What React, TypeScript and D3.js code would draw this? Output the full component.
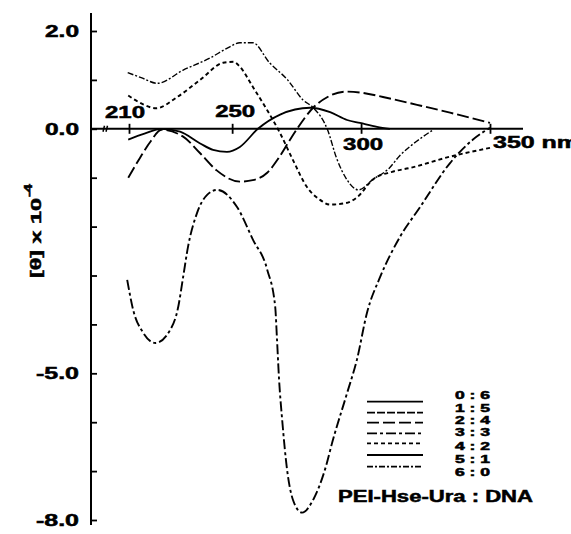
import React, { useEffect, useRef } from "react";
import * as d3 from "d3";

// CD spectra, PEI-Hse-Ura : DNA ratios. wavelength in nm, [θ] x 10^-4
const wl06 = [209.7, 216, 222.5, 229.8, 237.6, 242.6, 248, 253, 260, 268.6, 280.2, 288, 294.6, 299.6, 306.2, 311.2];
const th06 = [-0.22, -0.1, 0.0, -0.06, -0.3, -0.43, -0.47, -0.37, 0.0, 0.29, 0.43, 0.34, 0.18, 0.12, 0.04, 0.0];

const wl24 = [209.7, 214.3, 218.5, 222.5, 231, 237.6, 244, 253, 258, 263.6, 268, 272.5, 275.2, 281.4, 287, 293.8, 300, 308.5, 321.7, 334.5, 350];
const th24 = [-1.0, -0.59, -0.25, -0.02, -0.16, -0.5, -0.85, -1.08, -1.05, -0.9, -0.6, -0.22, 0.0, 0.43, 0.65, 0.76, 0.74, 0.65, 0.49, 0.33, 0.12];

const wl33 = [209.3, 211.6, 215.5, 220.2, 226, 229.1, 231, 232.9, 236.4, 240.3, 244.2, 251.9, 258.1, 263.6, 266.7, 267.4, 268.2, 269.4, 271.3, 273.6, 277.1, 281.4, 286, 289.1, 294.6, 298.4, 302.3, 307.4, 315.1, 322.9, 334.5, 343.4, 350];
const th33 = [-3.09, -3.7, -4.17, -4.38, -4.11, -3.64, -3.03, -2.41, -1.72, -1.35, -1.25, -1.6, -2.27, -2.88, -3.64, -4.31, -5.13, -5.95, -6.97, -7.59, -7.85, -7.59, -6.97, -6.36, -5.4, -4.72, -3.76, -3.03, -2.21, -1.6, -0.7, -0.22, 0.02];

const wl42 = [209.7, 215.5, 220.5, 228.7, 237.6, 246.5, 250.5, 253, 258, 263.5, 268.5, 273.5, 279, 284, 288, 294, 298.5, 304.5, 312, 319, 334.5, 350];
const th42 = [0.68, 0.5, 0.42, 0.65, 1.0, 1.35, 1.37, 1.27, 0.86, 0.39, -0.08, -0.63, -1.19, -1.45, -1.55, -1.52, -1.4, -1.04, -0.88, -0.8, -0.57, -0.39];

const wl60 = [209.5, 215, 221, 231, 241.5, 248.5, 253, 258, 264.5, 271.5, 277.5, 281.5, 287, 290.5, 294.5, 299, 304.5, 311, 315, 319, 323.5, 328];
const th60 = [1.15, 1.04, 0.93, 1.2, 1.45, 1.66, 1.76, 1.76, 1.35, 1.0, 0.59, 0.43, -0.02, -0.6, -1.04, -1.25, -1.04, -0.8, -0.55, -0.36, -0.18, -0.02];

const legendLabels = ["0 : 6", "1 : 5", "2 : 4", "3 : 3", "4 : 2", "5 : 1", "6 : 0"];
const legendDash = ["none", "8,2", "12,4", "10,3,3,3", "4,3", "none", "6,2,2,2"];
const yTickValues = d3.range(-8, 3);
const yLabelValues = [2, 0, -5, -8];
const xTickValues = [210, 250, 300, 350];

const curves = [
  { wl: wl06, th: th06, dash: "none", w: 1.8 },
  { wl: wl24, th: th24, dash: "12,4", w: 1.9 },
  { wl: wl33, th: th33, dash: "10,3,3,3", w: 1.9 },
  { wl: wl42, th: th42, dash: "4,3", w: 1.9 },
  { wl: wl60, th: th60, dash: "6,2,2,2", w: 1.4 },
];

const App = () => {
  const ref = useRef(null);

  useEffect(() => {
    const svg = d3.select(ref.current);
    svg.selectAll("*").remove();
    const font = "'Liberation Sans', Arial, sans-serif";

    const x = d3.scaleLinear().domain([210, 350]).range([129, 490]);
    const y = d3.scaleLinear().domain([-8, 2]).range([520, 31]);
    const x0 = 91;
    const y0 = y(0);

    // y axis
    svg.append("line")
      .attr("x1", x0).attr("x2", x0)
      .attr("y1", 13).attr("y2", 525)
      .attr("stroke", "#000").attr("stroke-width", 2);
    const ya = svg.append("g").attr("transform", `translate(${x0},0)`)
      .call(d3.axisRight(y).tickValues(yTickValues).tickSize(6).tickSizeOuter(0).tickFormat(() => ""));
    ya.select(".domain").remove();
    ya.selectAll("line").attr("stroke", "#000").attr("stroke-width", 1.8);

    // x axis
    svg.append("line")
      .attr("x1", x0).attr("x2", 523)
      .attr("y1", y0).attr("y2", y0)
      .attr("stroke", "#000").attr("stroke-width", 2);
    const xa = svg.append("g").attr("transform", `translate(0,${y0 - 5})`)
      .call(d3.axisBottom(x).tickValues(xTickValues).tickSize(10).tickSizeOuter(0).tickFormat(() => ""));
    xa.select(".domain").remove();
    xa.selectAll("line").attr("stroke", "#000").attr("stroke-width", 1.8);

    // small axis break mark
    svg.append("path")
      .attr("d", `M${x0 + 12},${y0 + 3} L${x0 + 13.5},${y0 - 3} M${x0 + 15},${y0 + 3} L${x0 + 16.5},${y0 - 3}`)
      .attr("stroke", "#000").attr("stroke-width", 1.5);

    const heavy = (sel) =>
      sel.attr("font-family", font).attr("font-weight", "bold")
        .attr("stroke", "#000").attr("stroke-width", 0.5)
        .attr("lengthAdjust", "spacingAndGlyphs");

    // y labels
    svg.selectAll(".ylab").data(yLabelValues).enter().append("text")
      .attr("x", (d) => (d < 0 ? 36 : 45))
      .attr("y", (d) => y(d) + 6)
      .attr("textLength", (d) => (d < 0 ? 43 : 34))
      .attr("font-size", 16)
      .call(heavy)
      .text((d) => d.toFixed(1));

    // x labels
    const xLab = [
      { v: 210, t: "210", dy: -11, len: 40, dx: -24 },
      { v: 250, t: "250", dy: -12, len: 40, dx: -17 },
      { v: 300, t: "300", dy: 21, len: 40, dx: -18 },
      { v: 350, t: "350 nm", dy: 19, len: 86, dx: 3 },
    ];
    svg.selectAll(".xlab").data(xLab).enter().append("text")
      .attr("x", (d) => x(d.v) + d.dx)
      .attr("y", (d) => y0 + d.dy)
      .attr("textLength", (d) => d.len)
      .attr("font-size", 16)
      .call(heavy)
      .text((d) => d.t);

    // y title
    svg.append("text")
      .attr("transform", "translate(41,278) rotate(-90)")
      .attr("textLength", 80)
      .attr("font-size", 15)
      .call(heavy)
      .text("[θ] x 10");
    svg.append("text")
      .attr("transform", "translate(32,197) rotate(-90)")
      .attr("textLength", 13)
      .attr("font-size", 10)
      .call(heavy)
      .text("-4");

    // curves
    const line = d3.line().x((d) => x(d[0])).y((d) => y(d[1])).curve(d3.curveMonotoneX);
    svg.selectAll(".curve").data(curves).enter().append("path")
      .attr("d", (c) => line(c.wl.map((w, i) => [w, c.th[i]])))
      .attr("fill", "none")
      .attr("stroke", "#000")
      .attr("stroke-width", (c) => c.w)
      .attr("stroke-dasharray", (c) => c.dash);

    // legend
    const lineY = [401.7, 412.7, 422.7, 433.3, 443.3, 455, 466.7];
    const textY = [399, 412, 424, 436, 450, 463, 476];
    svg.selectAll(".legline").data(legendDash).enter().append("line")
      .attr("x1", 367).attr("x2", 423)
      .attr("y1", (d, i) => lineY[i]).attr("y2", (d, i) => lineY[i])
      .attr("stroke", "#000").attr("stroke-width", 1.8)
      .attr("stroke-dasharray", (d) => d);
    svg.selectAll(".legtext").data(legendLabels).enter().append("text")
      .attr("x", 455).attr("y", (d, i) => textY[i])
      .attr("textLength", 35)
      .attr("font-size", 10)
      .call(heavy)
      .text((d) => d);
    svg.append("text")
      .attr("x", 338).attr("y", 502)
      .attr("textLength", 195)
      .attr("font-size", 16)
      .call(heavy)
      .text("PEI-Hse-Ura : DNA");
  }, []);

  return (
    <svg
      ref={ref}
      width={571}
      height={534}
      style={{ position: "absolute", left: 0, top: 0, background: "#fff" }}
    ></svg>
  );
};

export default App;
